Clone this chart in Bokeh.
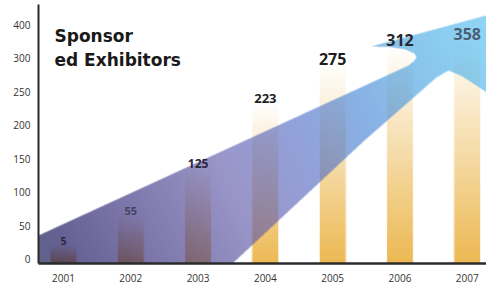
import numpy as np
from bokeh.plotting import figure
from bokeh.models import Range1d, FixedTicker, Label, ColumnDataSource
from bokeh.embed import file_html
from bokeh.resources import INLINE

# ---------------- data ----------------
years = ["2001", "2002", "2003", "2004", "2005", "2006", "2007"]
exhibitors = [5, 55, 125, 223, 275, 312, 358]
# visual bar tops as drawn in the picture (in axis units)
bar_tops = [22, 67, 137, 234, 294, 321, 331]
y_ticks = [0, 50, 100, 150, 200, 250, 300, 350]
y_tick_labels = ["0", "50", "100", "150", "200", "250", "300", "400"]

# ---------------- styles ----------------
label_sizes = ["10.5px", "11px", "12px", "13px", "16px", "16px", "16px"]
label_colors = ["#2b2940", "#46425f", "#2a2838", "#1e1e1e", "#1e1e1e", "#262a30", "#4a5f73"]

# arrow outline (decorative shape, axis units)
ARROW_X = [-0.371, 2.512, 4.473, 5.543, 5.721, 5.929, 6.494, 6.494,
           4.577, 4.859, 5.082, 5.216, 5.246, 5.201, 5.127, -0.371]
ARROW_Y = [-6.0, -6.0, 177.6, 271.6, 282.1, 273.1, 236.0, 370.0,
           317.9, 317.1, 313.4, 307.4, 301.5, 295.6, 289.5, 35.8]
# gradient stops along arrow (as seen over white)
GRAD_T = [0.0, 0.2, 0.4, 0.55, 0.7, 0.85, 1.0]
GRAD_C = [(92, 88, 138), (124, 118, 170), (154, 149, 200), (146, 160, 216),
          (136, 178, 228), (138, 200, 238), (143, 214, 246)]
ARROW_ALPHA = 0.62

PX_PER_UNIT = 0.67
FW, FH = 448, 259  # frame size in px
X0, X1 = -0.371, -0.371 + FW / 67.3
Y0 = -6.0
Y1 = Y0 + FH / PX_PER_UNIT

p = figure(width=486, height=285, x_range=Range1d(X0, X1), y_range=Range1d(Y0, Y1),
           output_backend="svg", toolbar_location=None,
           min_border_left=38, min_border_right=0, min_border_top=4, min_border_bottom=22)
p.outline_line_color = None
p.xgrid.visible = False
p.ygrid.visible = False
p.background_fill_color = "white"

# ---------------- bars with vertical gradient (nested, no seams) ----------------
N = 40
orange = np.array([236, 184, 82])
white = np.array([255, 255, 255])
for k in range(N, 0, -1):
    frac = k / N
    f = (k - 0.5) / N
    col = orange * (1 - f) + white * f
    tops_k = [Y0 + (t - Y0) * frac for t in bar_tops]
    p.vbar(x=list(range(len(years))), bottom=Y0, top=tops_k, width=0.4,
           fill_color="#%02x%02x%02x" % tuple(int(round(v)) for v in col),
           line_color=None)
p.vbar(x=list(range(len(years))), bottom=Y0, top=bar_tops, width=0.4,
       fill_color=None, line_color="white", line_width=1.2, line_alpha=0.9)

# ---------------- arrow (rasterised gradient) ----------------
def inside_poly(px, py, vx, vy):
    res = np.zeros(px.shape, dtype=bool)
    n = len(vx)
    for a in range(n):
        x1, y1 = vx[a], vy[a]
        x2, y2 = vx[(a + 1) % n], vy[(a + 1) % n]
        if y1 == y2:
            continue
        cond = ((y1 > py) != (y2 > py)) & (px < (x2 - x1) * (py - y1) / (y2 - y1) + x1)
        res ^= cond
    return res

SS = 3
xs = (np.arange(FW * SS) + 0.5) / SS
ys = (np.arange(FH * SS) + 0.5) / SS
GX, GY = np.meshgrid(xs, ys)
DX = X0 + GX * (X1 - X0) / FW
DY = Y0 + GY * (Y1 - Y0) / FH
ins = inside_poly(DX, DY, ARROW_X, ARROW_Y).astype(float)
mask = ins.reshape(FH, SS, FW, SS).mean(axis=(1, 3))

cx = np.arange(FW) + 0.5
cy = np.arange(FH) + 0.5
CX, CY = np.meshgrid(cx, cy)
tt = np.clip((CX + 0.5 * CY) / (FW + 0.5 * FH), 0, 1)
rgba = np.zeros((FH, FW, 4), dtype=np.uint8)
for ch in range(3):
    m = np.interp(tt, GRAD_T, [c[ch] for c in GRAD_C])
    c = (m - 255 * (1 - ARROW_ALPHA)) / ARROW_ALPHA
    rgba[:, :, ch] = np.clip(np.round(c), 0, 255).astype(np.uint8)
rgba[:, :, 3] = np.clip(np.round(mask * ARROW_ALPHA * 255), 0, 255).astype(np.uint8)
img = rgba.view(np.uint32).reshape(FH, FW)
p.image_rgba(image=[img], x=X0, y=Y0, dw=X1 - X0, dh=Y1 - Y0)

# ---------------- value labels ----------------
src = ColumnDataSource(dict(x=list(range(len(years))), y=bar_tops,
                            text=[str(v) for v in exhibitors],
                            size=label_sizes, color=label_colors))
p.text(x="x", y="y", text="text", source=src, text_align="center",
       text_baseline="alphabetic", text_font_size="size", text_color="color",
       text_font={"value": "Open Sans"}, text_font_style="bold", y_offset=-4)

# ---------------- title ----------------
for txt, yy in (("Sponsor", 228), ("ed Exhibitors", 204)):
    p.add_layout(Label(x=16, y=yy, x_units="screen", y_units="screen", text=txt,
                       text_font="DejaVu Sans", text_font_size="17px",
                       text_font_style="bold", text_color="#1a1a1a",
                       text_baseline="alphabetic"))

# ---------------- axes ----------------
p.xaxis.ticker = FixedTicker(ticks=list(range(len(years))))
p.xaxis.major_label_overrides = {i: y for i, y in enumerate(years)}
p.yaxis.ticker = FixedTicker(ticks=y_ticks)
p.yaxis.major_label_overrides = {t: l for t, l in zip(y_ticks, y_tick_labels)}
for ax in (p.xaxis[0], p.yaxis[0]):
    ax.major_tick_out = 0
    ax.major_tick_in = 0
    ax.minor_tick_out = 0
    ax.minor_tick_in = 0
    ax.axis_line_color = "#2b2b2b"
    ax.major_label_text_font = "Open Sans"
    ax.major_label_text_font_size = "10px"
    ax.major_label_text_color = "#333333"
p.xaxis.axis_line_width = 2.5
p.yaxis.axis_line_width = 2
p.xaxis.major_label_standoff = 10
p.yaxis.major_label_standoff = 8

open("out.html", "w").write(file_html(p, INLINE))
